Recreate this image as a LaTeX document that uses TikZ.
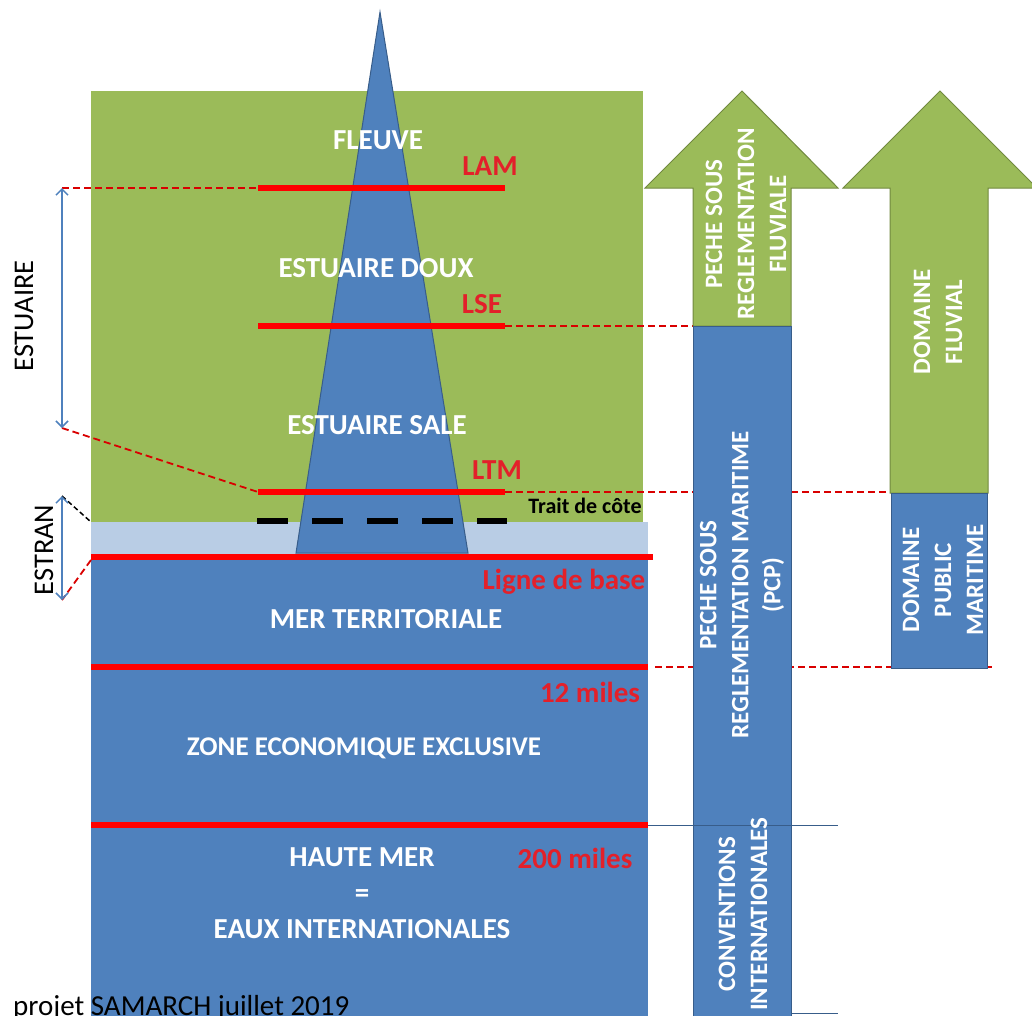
\documentclass[tikz,border=0pt]{standalone}
\usepackage{fontspec}
\setmainfont{Carlito}
\usetikzlibrary{arrows.meta, positioning, calc}
\definecolor{vert}{HTML}{9BBB59}
\definecolor{vertfonce}{HTML}{71893F}
\definecolor{bleu}{HTML}{4F81BD}
\definecolor{bleufonce}{HTML}{385D8A}
\definecolor{bleuclair}{HTML}{B9CDE5}
\definecolor{rouge}{HTML}{FF0000}
\definecolor{rougetxt}{HTML}{E3202A}

\begin{document}
\begin{tikzpicture}[x=1pt, y=-1pt,
    limite/.style={draw=rouge, line width=6pt},
    renvoi/.style={draw=rouge!85!black, line width=1.8pt, dash pattern=on 7pt off 4pt},
    zone/.style={text=white, font=\fontsize{29}{36}\selectfont\bfseries, align=center},
    rlbl/.style={text=rougetxt, font=\fontsize{29}{32}\selectfont\bfseries},
    vlbl/.style={text=white, font=\fontsize{25}{32}\selectfont\bfseries, align=center, rotate=90},
    cote/.style={draw=bleu, line width=1.5pt, {Straight Barb[length=6pt,width=12pt]}-{Straight Barb[length=6pt,width=12pt]}},
    boite/.style={fill=bleu, draw=bleufonce, line width=1pt}]
  \useasboundingbox (0,0) rectangle (1032,1015);
  % fonds
  \fill[vert] (91,91) rectangle (643,522);
  \fill[bleuclair] (91,522) rectangle (648,557);
  \fill[bleu] (91,557) rectangle (648,1020);
  % extremites des limites
  \coordinate (lamG) at (258,188);  \coordinate (lamD) at (505,188);
  \coordinate (lseG) at (258,326);  \coordinate (lseD) at (505,326);
  \coordinate (ltmG) at (258,492);  \coordinate (ltmD) at (505,492);
  \coordinate (lbG) at (91,557);    \coordinate (lbD) at (653,557);
  \coordinate (m12G) at (91,667);   \coordinate (m12D) at (648,667);
  \coordinate (m200G) at (91,825);  \coordinate (m200D) at (648,825);
  \coordinate (estH) at (62,188);   \coordinate (estB) at (62,428);
  \coordinate (strH) at (62,496);   \coordinate (strB) at (62,600);
  \coordinate (tcG) at (91,522);
  % renvois vers la droite (derriere les fleches)
  \draw[renvoi] (lseD) -- (693,326);
  \draw[renvoi] (ltmD) -- (893,492);
  \draw[renvoi] (655,667) -- (995,667);
  % fleche peche fluviale + peche maritime
  \draw[fill=vert, draw=vertfonce, line width=1pt]
    (693,326) -- (693,188) -- (645,188) -- (742,91) -- (838,188) -- (791,188) -- (791,326) -- cycle;
  \draw[boite] (693,326) rectangle (791,825);
  \draw[boite] (693,825) rectangle (791,1020);
  \draw[bleufonce, line width=1pt] (m200D) -- (838,825);
  \draw[bleufonce, line width=1pt] (791,1013) -- (838,1013);
  % fleche domaine fluvial + DPM
  \draw[fill=vert, draw=vertfonce, line width=1pt]
    (890,493) -- (890,188) -- (843,188) -- (940,91) -- (1037,188) -- (988,188) -- (988,493) -- cycle;
  \draw[boite] (891,493) rectangle (987,668);
  % fleuve
  \draw[fill=bleu, draw=bleufonce, line width=1pt] (380,12) -- (468,553) -- (296,553) -- cycle;
  % limites
  \draw[limite] (lamG) -- (lamD);
  \draw[limite] (lseG) -- (lseD);
  \draw[limite] (ltmG) -- (ltmD);
  \draw[limite] (lbG) -- (lbD);
  \draw[limite] (m12G) -- (m12D);
  \draw[limite] (m200G) -- (m200D);
  \draw[black, line width=6pt, dash pattern=on 31pt off 24pt] (257,521) -- (507,521);
  % renvois a gauche
  \draw[renvoi] (estH) -- (lamG);
  \draw[renvoi] (estB) -- (ltmG);
  \draw[renvoi] ($(lbG)+(0,3)$) -- (strB);
  \draw[black, line width=1.5pt, dash pattern=on 5pt off 3pt] (strH) -- (tcG);
  \draw[cote] (estH) -- (estB);
  \draw[cote] (strH) -- (strB);
  % textes
  \node[rotate=90, font=\fontsize{28.5}{30}\selectfont] (estuaire) at (24,316) {ESTUAIRE};
  \node[rotate=90, font=\fontsize{28.5}{30}\selectfont] (estran) at (44,550) {ESTRAN};
  \node[zone] (fleuve) at (378,140) {FLEUVE};
  \node[zone] (doux) at (376,268) {ESTUAIRE DOUX};
  \node[zone] (sale) at (377,425) {ESTUAIRE SALE};
  \node[zone] (merterr) at (386,619) {MER TERRITORIALE};
  \node[zone, font=\fontsize{27}{36}\selectfont\bfseries] (zee) at (364,748) {ZONE ECONOMIQUE EXCLUSIVE};
  \node[zone] (hautemer) at (362,893) {HAUTE MER\\=\\EAUX INTERNATIONALES};
  \node[rlbl] (lam) at (490,166) {LAM};
  \node[rlbl] (lse) at (482,304) {LSE};
  \node[rlbl] (ltm) at (497,470) {LTM};
  \node[rlbl] (lignebase) at (564,582) {Ligne de base};
  \node[rlbl] (m12) at (590,692) {12 miles};
  \node[rlbl] (m200) at (575,858) {200 miles};
  \node[font=\fontsize{22}{24}\selectfont\bfseries] (trait) at (585,506) {Trait de côte};
  \node[vlbl] (fluviale) at (746,224) {PECHE SOUS\\REGLEMENTATION\\FLUVIALE};
  \node[vlbl] (pcp) at (742,585) {PECHE SOUS\\REGLEMENTATION MARITIME\\(PCP)};
  \node[vlbl] (conv) at (743,914) {CONVENTIONS\\INTERNATIONALES};
  \node[vlbl] (domfluv) at (938,322) {DOMAINE\\FLUVIAL};
  \node[vlbl] (dpm) at (943,580) {DOMAINE\\PUBLIC\\MARITIME};
  \node[anchor=base west, font=\fontsize{29}{32}\selectfont, inner sep=0pt] (projet) at (13,1015) {projet SAMARCH juillet 2019};
\end{tikzpicture}
\end{document}
